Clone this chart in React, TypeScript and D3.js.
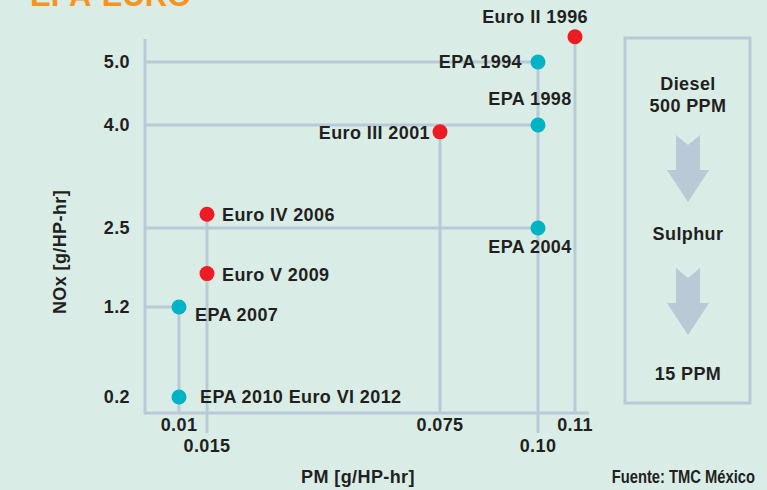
import React from 'react';
import * as d3 from 'd3';

// emission standards: PM vs NOx, g/HP-hr
const standards = ['Euro II 1996', 'EPA 1994', 'EPA 1998', 'Euro III 2001', 'EPA 2004', 'Euro IV 2006', 'EPA 2007', 'Euro V 2009', 'EPA 2010 Euro VI 2012'];
const region = ['Euro', 'EPA', 'EPA', 'Euro', 'EPA', 'Euro', 'EPA', 'Euro', 'EPA'];
const pmValues = [0.11, 0.10, 0.10, 0.075, 0.10, 0.015, 0.01, 0.015, 0.01];
const noxValues = [5.4, 5.0, 4.0, 3.9, 2.5, 2.7, 1.2, 1.75, 0.2];

const pmTicks = [0.01, 0.015, 0.075, 0.10, 0.11];
const pmTickLabels = ['0.01', '0.015', '0.075', '0.10', '0.11'];
const noxTicks = [0.2, 1.2, 2.5, 4.0, 5.0];
const noxTickLabels = ['0.2', '1.2', '2.5', '4.0', '5.0'];

const sulphurSteps = [['Diesel', '500 PPM'], ['Sulphur'], ['15 PPM']];

const width = 767;
const height = 490;
const bg = '#d9ede6';
const lineColor = '#b9c9d5';
const ink = '#231f20';
const colors: Record<string, string> = { Euro: '#ed1c24', EPA: '#00b4c6' };
const font = '"Liberation Sans", Arial, Helvetica, sans-serif';
const fs = 18;
const ls = 0.4;

// the original axes are drawn schematically, so the scales are piecewise between ticks
const x = d3.scaleLinear().domain(pmTicks).range([179, 207, 440, 538, 575]);
const y = d3.scaleLinear().domain(noxTicks).range([397, 307, 228, 125, 62]);

const axisX = 145;
const axisY = 413;
const plotTop = 39;
const plotRight = 589;

// label placement per point: [anchor, dx, dy]
const labelPos: [string, number, number][] = [
  ['end', 13, -14],
  ['end', -16, 6],
  ['middle', -8, -20],
  ['end', -10, 7],
  ['middle', -8, 25],
  ['start', 15, 7],
  ['start', 16, 14],
  ['start', 15, 7],
  ['start', 21, 6],
];

const Arrow = ({ cx, top }: { cx: number; top: number }) => {
  const p = [
    [cx - 12, top], [cx, top + 10], [cx + 12, top], [cx + 12, top + 35],
    [cx + 21, top + 35], [cx, top + 67], [cx - 21, top + 35], [cx - 12, top + 35],
  ];
  return <path d={d3.line()(p as [number, number][]) + 'Z'} fill={lineColor} />;
};

const T = (props: any) => (
  <text fontSize={fs} fontWeight="bold" letterSpacing={ls} fill={ink} {...props} />
);

export default function App() {
  const points = standards.map((name, i) => ({
    name, region: region[i], pm: pmValues[i], nox: noxValues[i], pos: labelPos[i],
  }));

  // vertical guides: from the highest point on each PM tick down to the axis
  const vGuides = pmTicks.map((t, i) => ({
    x: x(t),
    top: y(d3.max(points.filter(p => p.pm === t), p => p.nox) ?? 0),
    bottom: i % 2 === 1 ? axisY + 20 : axisY,
  }));
  // horizontal guides: from the axis to the farthest point on each NOx tick
  const hGuides = noxTicks.slice(1).map(t => ({
    y: y(t),
    right: x(d3.max(points.filter(p => p.nox === t), p => p.pm) ?? 0),
  }));

  const boxCx = 688;

  return (
    <svg width={width} height={height} style={{ position: 'absolute', left: 0, top: 0, background: bg }} fontFamily={font}>
      <rect width={width} height={height} fill={bg} />
      <text x={30} y={6} fontSize={31} fontWeight="bold" fill="#f7941d">EPA-EURO</text>

      {vGuides.map((g, i) => (
        <line key={'v' + i} x1={g.x} x2={g.x} y1={g.top} y2={g.bottom} stroke={lineColor} strokeWidth={3} />
      ))}
      {hGuides.map((g, i) => (
        <line key={'h' + i} x1={axisX} x2={g.right} y1={g.y} y2={g.y} stroke={lineColor} strokeWidth={3} />
      ))}
      <line x1={axisX} x2={axisX} y1={plotTop} y2={axisY + 1.5} stroke={lineColor} strokeWidth={3} />
      <line x1={axisX} x2={plotRight} y1={axisY} y2={axisY} stroke={lineColor} strokeWidth={3} />

      {noxTicks.map((t, i) => (
        <T key={'yt' + i} x={130} y={y(t) + 6} textAnchor="end">{noxTickLabels[i]}</T>
      ))}
      {pmTicks.map((t, i) => (
        <T key={'xt' + i} x={x(t)} y={i % 2 === 1 ? 452 : 431} textAnchor="middle">{pmTickLabels[i]}</T>
      ))}

      {points.map((p, i) => (
        <g key={'p' + i}>
          <circle cx={x(p.pm)} cy={y(p.nox)} r={7.5} fill={colors[p.region]} />
          <T x={x(p.pm) + p.pos[1]} y={y(p.nox) + p.pos[2]} textAnchor={p.pos[0]}>{p.name}</T>
        </g>
      ))}

      <T transform="translate(66,252) rotate(-90)" textAnchor="middle">NOx [g/HP-hr]</T>
      <T x={358} y={483} textAnchor="middle">PM [g/HP-hr]</T>

      <rect x={625} y={38} width={125} height={365} fill="none" stroke={lineColor} strokeWidth={3} />
      <T x={boxCx} y={90} textAnchor="middle">{sulphurSteps[0][0]}</T>
      <T x={boxCx} y={112} textAnchor="middle">{sulphurSteps[0][1]}</T>
      <Arrow cx={boxCx} top={135} />
      <T x={boxCx} y={240} textAnchor="middle">{sulphurSteps[1][0]}</T>
      <Arrow cx={boxCx} top={268} />
      <T x={boxCx} y={380} textAnchor="middle">{sulphurSteps[2][0]}</T>

      <g transform="translate(755,483) scale(0.82,1)">
        <text x={0} y={0} textAnchor="end" fontSize={18} fontWeight="bold" fill={ink}>Fuente: TMC México</text>
      </g>
    </svg>
  );
}
